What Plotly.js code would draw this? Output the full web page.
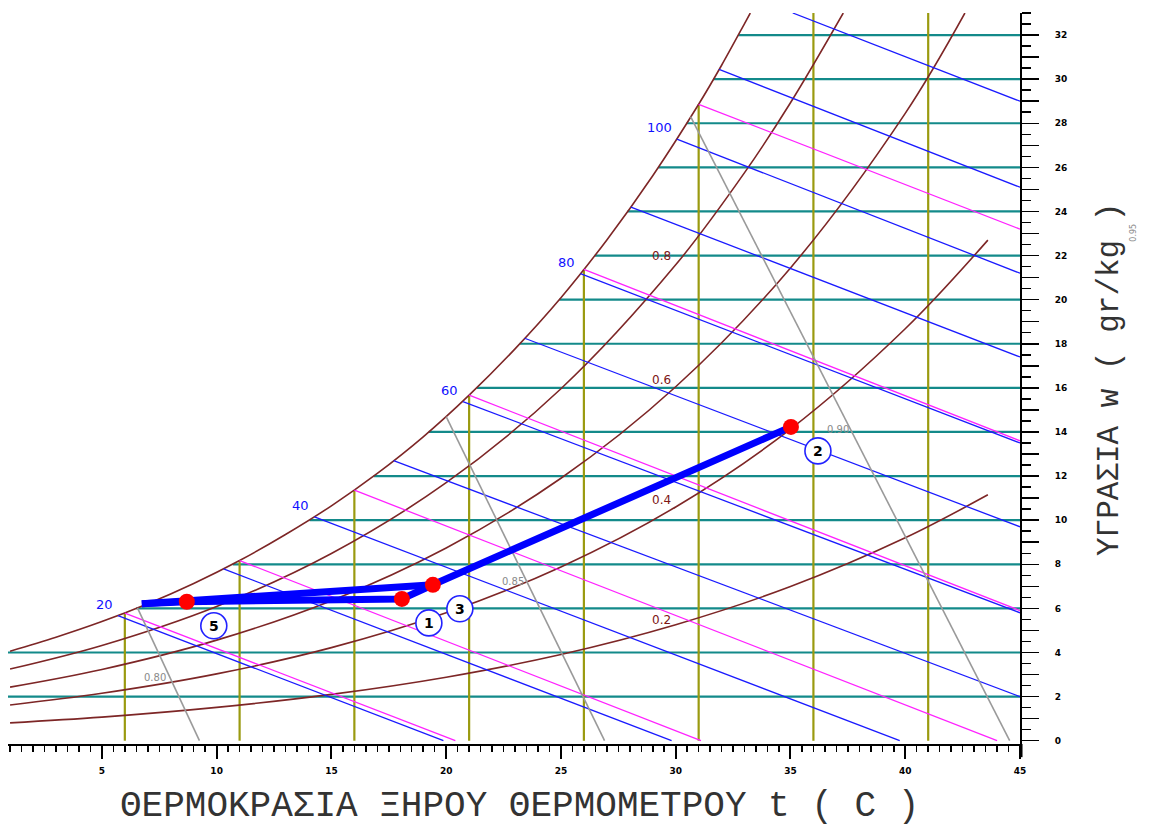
<!DOCTYPE html>
<html>
<head>
<meta charset="utf-8">
<script src="https://cdn.plot.ly/plotly-3.0.1.min.js"></script>
<style>html,body{margin:0;padding:0;background:#fff;}#chart{width:1150px;height:830px;}</style>
</head>
<body>
<div id="chart"></div>
<script>
// ---------- DATA ----------
// saturation curve (100 %)
const satT = [1, 3, 5, 7, 9, 11, 13, 15, 17, 19, 21, 23, 25, 27, 29, 31, 32, 33, 33.25];
const satW = [4.06, 4.69, 5.40, 6.21, 7.13, 8.17, 9.35, 10.65, 12.12, 13.78, 15.67, 17.77, 20.09, 22.71, 25.62, 28.86, 30.63, 32.52, 33.0];
// relative humidity curves
const rh80T = [1, 5, 10, 15, 20, 25, 30, 33, 35, 37.3];
const rh80W = [3.25, 4.32, 6.09, 8.49, 11.70, 15.96, 21.58, 25.76, 28.93, 33.0];
const rh60T = [1, 5, 10, 15, 20, 25, 30, 35, 40, 42.6];
const rh60W = [2.43, 3.23, 4.56, 6.35, 8.74, 11.90, 16.05, 21.44, 28.45, 33.0];
const rh40T = [1, 5, 10, 15, 20, 25, 30, 35, 40, 43.6];
const rh40W = [1.62, 2.15, 3.03, 4.22, 5.80, 7.88, 10.60, 14.13, 18.68, 22.7];
const rh20T = [1, 5, 10, 15, 20, 25, 30, 35, 40, 43.6];
const rh20W = [0.81, 1.07, 1.51, 2.10, 2.88, 3.91, 5.26, 6.99, 9.20, 11.15];
const rhLabels = ['0.8', '0.6', '0.4', '0.2'];

// humidity grid lines (w, start temperature on saturation curve)
const gridW = [2, 4, 6, 8, 10, 12, 14, 16, 18, 20, 22, 24, 26, 28, 30, 32];
const gridStartT = [0, 0, 6.5, 10.7, 14.05, 16.84, 19.24, 21.34, 23.2, 24.93, 26.47, 27.9, 29.24, 30.48, 31.64, 32.72];

// dry bulb lines
const dbT = [6, 11, 16, 21, 26, 31, 36, 41];
const dbTopW = [5.79, 8.17, 11.36, 15.67, 21.37, 28.86, 33, 33];

// wet bulb lines
const wbStartT = [6, 11, 16, 21, 26, 31];
const wbStartW = [5.79, 8.17, 11.36, 15.67, 21.37, 28.86];
const wbEndT = [20.4, 31.1, 44.0, 45, 45, 45];
const wbEndW = [0, 0, 0, 5.9, 13.6, 23.2];

// enthalpy lines (kJ/kg)
const hVals = [20, 30, 40, 50, 60, 70, 80, 90, 100, 110, 120];
const hStartT = [5.7, 10.3, 14.26, 17.71, 20.73, 23.42, 25.85, 28.05, 30.05, 31.89, 35.1];
const hStartW = [5.67, 7.79, 10.15, 12.7, 15.38, 18.25, 21.18, 24.2, 27.28, 30.44, 33];
const hEndT = [19.88, 29.82, 39.76, 45, 45, 45, 45, 45, 45, 45, 45];
const hEndW = [0, 0, 0, 2.0, 5.8, 9.7, 13.5, 17.4, 21.2, 25.1, 29.0];
const hLabelled = [20, 40, 60, 80, 100];

// specific volume lines (m3/kg)
const vVals = ['0.80', '0.85', '0.90'];
const vStartT = [6.55, 20.0, 30.65];
const vStartW = [6.02, 14.7, 28.3];
const vEndT = [9.25, 26.9, 44.55];
const vEndW = [0, 0, 0];

// process
const procT = [6.74, 8.70, 18.07, 19.42, 35.02];
const procW = [6.21, 6.30, 6.43, 7.07, 14.23];
const branchT = [6.74, 19.42];
const branchW = [6.21, 7.07];
const pointT = [8.70, 18.07, 19.42, 35.02];
const pointW = [6.30, 6.43, 7.07, 14.23];
const pointNames = ['5', '1', '3', '2'];

// axis ticks
const xTickVals = [5, 10, 15, 20, 25, 30, 35, 40, 45];
const xTickText = ['5', '10', '15', '20', '25', '30', '35', '40', '45'];
const yTickVals = [0,1,2,3,4,5,6,7,8,9,10,11,12,13,14,15,16,17,18,19,20,21,22,23,24,25,26,27,28,29,30,31,32];
const yTickText = ['0','','2','','4','','6','','8','','10','','12','','14','','16','','18','','20','','22','','24','','26','','28','','30','','32'];

// ---------- helpers ----------
function segs(x0, y0, x1, y1) {
  const xs = [], ys = [];
  for (let i = 0; i < x0.length; i++) {
    xs.push(x0[i], x1[i], null);
    ys.push(y0[i], y1[i], null);
  }
  return {x: xs, y: ys};
}
const base = {type: 'scatter', mode: 'lines', hoverinfo: 'skip', showlegend: false};

const teal = segs(gridStartT, gridW, gridStartT.map(() => 45), gridW);
const olive = segs(dbT, dbT.map(() => 0), dbT, dbTopW);
const pink = segs(wbStartT, wbStartW, wbEndT, wbEndW);
const blue = segs(hStartT, hStartW, hEndT, hEndW);
const gray = segs(vStartT, vStartW, vEndT, vEndW);

const brownC = '#7d2626';
const traces = [
  Object.assign({}, base, {x: teal.x, y: teal.y, line: {color: '#138a8a', width: 2.2}}),
  Object.assign({}, base, {x: olive.x, y: olive.y, line: {color: '#9a9a10', width: 2.2}}),
  Object.assign({}, base, {x: satT, y: satW, line: {color: brownC, width: 1.6, shape: 'spline'}}),
  Object.assign({}, base, {x: rh80T, y: rh80W, line: {color: brownC, width: 1.6, shape: 'spline'}}),
  Object.assign({}, base, {x: rh60T, y: rh60W, line: {color: brownC, width: 1.6, shape: 'spline'}}),
  Object.assign({}, base, {x: rh40T, y: rh40W, line: {color: brownC, width: 1.6, shape: 'spline'}}),
  Object.assign({}, base, {x: rh20T, y: rh20W, line: {color: brownC, width: 1.6, shape: 'spline'}}),
  Object.assign({}, base, {x: blue.x, y: blue.y, line: {color: '#1a1aff', width: 1.3}}),
  Object.assign({}, base, {x: pink.x, y: pink.y, line: {color: '#ff22ff', width: 1.3}}),
  Object.assign({}, base, {x: gray.x, y: gray.y, line: {color: '#9a9a9a', width: 1.6}}),
  Object.assign({}, base, {x: procT, y: procW, line: {color: '#0000ff', width: 7}}),
  Object.assign({}, base, {x: branchT, y: branchW, line: {color: '#0000ff', width: 7}}),
  Object.assign({}, base, {x: pointT, y: pointW, mode: 'markers', marker: {color: '#ff0000', size: 16, line: {width: 0}}})
];

// ---------- annotations ----------
const annotations = [];
hLabelled.forEach(h => {
  const i = hVals.indexOf(h);
  annotations.push({x: hStartT[i], y: hStartW[i], xref: 'x', yref: 'y', text: String(h), showarrow: false,
    xanchor: 'right', yanchor: 'bottom', xshift: -3, yshift: 2,
    font: {family: 'DejaVu Sans', size: 13, color: '#1010ff'}});
});
const rhLabW = [22.0, 16.36, 10.92, 5.48];
rhLabels.forEach((s, i) => annotations.push({x: 29.4, y: rhLabW[i], xref: 'x', yref: 'y', text: s, showarrow: false,
  font: {family: 'DejaVu Sans', size: 12, color: '#7d1515'}}));
const vLabPos = [[7.31, 2.85], [22.91, 7.2], [37.07, 14.09]];
vVals.forEach((s, i) => annotations.push({x: vLabPos[i][0], y: vLabPos[i][1], xref: 'x', yref: 'y', text: s, showarrow: false,
  font: {family: 'DejaVu Sans', size: 10, color: '#8a8a8a'}}));

const shapes = [];
pointNames.forEach((n, i) => {
  shapes.push({type: 'circle', xref: 'x', yref: 'y', xsizemode: 'pixel', ysizemode: 'pixel',
    xanchor: pointT[i], yanchor: pointW[i], x0: 27 - 13, x1: 27 + 13, y0: -24 - 13, y1: -24 + 13,
    line: {color: '#2222ff', width: 1.6}, fillcolor: '#ffffff', layer: 'above'});
  annotations.push({x: pointT[i], y: pointW[i], xref: 'x', yref: 'y', text: n, showarrow: false,
    xshift: 27, yshift: -24, font: {family: 'DejaVu Sans', size: 14, color: '#000', weight: 'bold'}});
});
// right axis line extension below bottom axis
shapes.push({type: 'line', xref: 'paper', yref: 'paper', x0: 1.0015, x1: 1.0015, y0: -0.018, y1: 0, line: {color: '#000', width: 2}});

annotations.push({xref: 'paper', yref: 'paper', x: 0.505, y: -0.086, text: 'ΘΕΡΜΟΚΡΑΣΙΑ ΞΗΡΟΥ ΘΕΡΜΟΜΕΤΡΟΥ t ( C )',
  showarrow: false, xanchor: 'center', yanchor: 'middle', font: {family: 'Liberation Mono', size: 36, color: '#333333'}});
annotations.push({xref: 'paper', yref: 'paper', x: 1.089, y: 0.498, text: 'ΥΓΡΑΣΙΑ w ( gr/kg )', textangle: -90,
  showarrow: false, xanchor: 'center', yanchor: 'middle', font: {family: 'Liberation Mono', size: 31, color: '#333333'}});
annotations.push({xref: 'paper', yref: 'paper', x: 1.112, y: 0.700, text: '0.95', textangle: -90,
  showarrow: false, xanchor: 'center', yanchor: 'middle', font: {family: 'DejaVu Sans', size: 8, color: '#888'}});

const tickFont = {family: 'DejaVu Sans', size: 9, color: '#000', weight: 'bold'};
const layout = {
  width: 1150, height: 830,
  margin: {l: 8, r: 130, t: 13, b: 86, autoexpand: false},
  paper_bgcolor: '#ffffff', plot_bgcolor: '#ffffff',
  showlegend: false, hovermode: false,
  xaxis: {range: [0.91, 45], showgrid: false, zeroline: false, showline: true, linecolor: '#000', linewidth: 2,
    tickmode: 'array', tickvals: xTickVals, ticktext: xTickText, ticks: 'outside', ticklen: 13, tickwidth: 2, tickcolor: '#000',
    ticklabelstandoff: 4, tickfont: tickFont,
    minor: {tickmode: 'linear', tick0: 1, dtick: 0.5, ticks: 'outside', ticklen: 6, tickwidth: 1.5, tickcolor: '#000', showgrid: false}},
  yaxis: {range: [-0.15, 33], side: 'right', showgrid: false, zeroline: false, showline: true, linecolor: '#000', linewidth: 2,
    tickmode: 'array', tickvals: yTickVals, ticktext: yTickText, ticks: 'outside', ticklen: 17, tickwidth: 1.5, tickcolor: '#000',
    ticklabelstandoff: 14, tickfont: tickFont,
    minor: {tickmode: 'linear', tick0: 0, dtick: 0.5, ticks: 'outside', ticklen: 9, tickwidth: 1.5, tickcolor: '#000', showgrid: false}},
  annotations: annotations,
  shapes: shapes
};

Plotly.newPlot('chart', traces, layout, {displayModeBar: false, staticPlot: true});
</script>
</body>
</html>
